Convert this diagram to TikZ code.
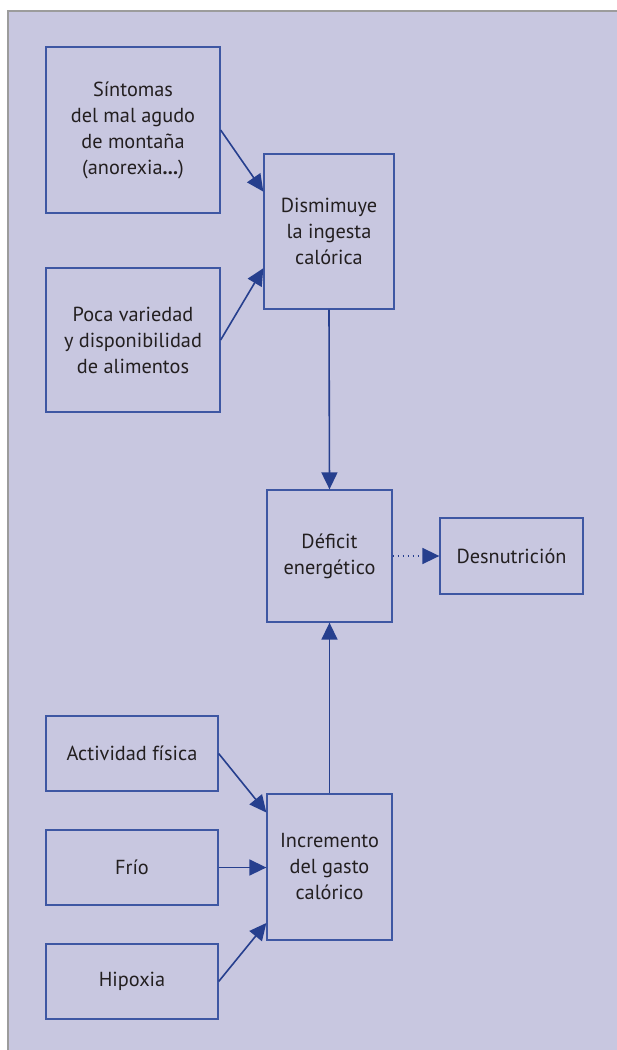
\documentclass[tikz,border=0pt]{standalone}
\usepackage{fontspec}
\setmainfont{PT Sans}
\usetikzlibrary{arrows.meta,calc}
\definecolor{bgc}{HTML}{C8C7E0}
\definecolor{edgec}{HTML}{3E57A3}
\definecolor{arrc}{HTML}{263F8E}
\definecolor{txtc}{HTML}{231F20}
\definecolor{framec}{HTML}{9C9C9C}
\tikzset{
  box/.style={draw=edgec, line width=1.3pt, inner sep=0pt, align=center,
    text=txtc, font=\fontsize{20.3}{26}\selectfont},
  conn/.style={draw=arrc, line width=1.6pt,
    -{Triangle[length=17pt,width=16pt]}},
  dotconn/.style={draw=arrc, line width=1.6pt, dash pattern=on 1.6pt off 3.4pt,
    -{Triangle[length=17pt,width=16pt]}}
}
\begin{document}
\begin{tikzpicture}[x=1pt,y=-1pt]
\useasboundingbox (0,0) rectangle (617,1050);
\fill[bgc] (8,11) rectangle (617,1050);
\draw[framec, line width=1.5pt] (8,1050) -- (8,11) -- (617,11);

\node[box, minimum width=174pt, minimum height=166pt] (s) at (133,130)
  {Síntomas\\del mal agudo\\de montaña\\(anorexia\textbf{...})};
\node[box, minimum width=174pt, minimum height=144pt] (p) at (133,340)
  {Poca variedad\\y disponibilidad\\de alimentos};
\node[box, minimum width=130pt, minimum height=155pt] (d) at (329,231.5)
  {Dismimuye\\la ingesta\\calórica};
\node[box, minimum width=125pt, minimum height=132pt] (def) at (329.5,556)
  {Déficit\\energético};
\node[box, minimum width=143pt, minimum height=76pt] (des) at (511.5,556)
  {Desnutrición};
\node[box, minimum width=172pt, minimum height=75pt] (a) at (132,753.5)
  {Actividad física};
\node[box, minimum width=172pt, minimum height=75pt] (f) at (132,867.5)
  {Frío};
\node[box, minimum width=172pt, minimum height=75pt] (h) at (132,981.5)
  {Hipoxia};
\node[box, minimum width=125pt, minimum height=146pt] (inc) at (329.5,867)
  {Incremento\\del gasto\\calórico};

\coordinate (d1) at ($(d.north west)!0.245!(d.south west)$);
\coordinate (d2) at ($(d.north west)!0.735!(d.south west)$);
\coordinate (i1) at ($(inc.north west)!0.13!(inc.south west)$);
\coordinate (i3) at ($(inc.north west)!0.88!(inc.south west)$);

\draw[conn] (s.east) -- (d1);
\draw[conn] (p.east) -- (d2);
\draw[conn] (d.south) -- (def.north);
\draw[conn] (inc.north) -- (def.south);
\draw[dotconn] (def.east) -- (des.west);
\draw[conn] (a.east) -- (i1);
\draw[conn] (f.east) -- (f.east -| inc.west);
\draw[conn] (h.east) -- (i3);
\end{tikzpicture}
\end{document}
